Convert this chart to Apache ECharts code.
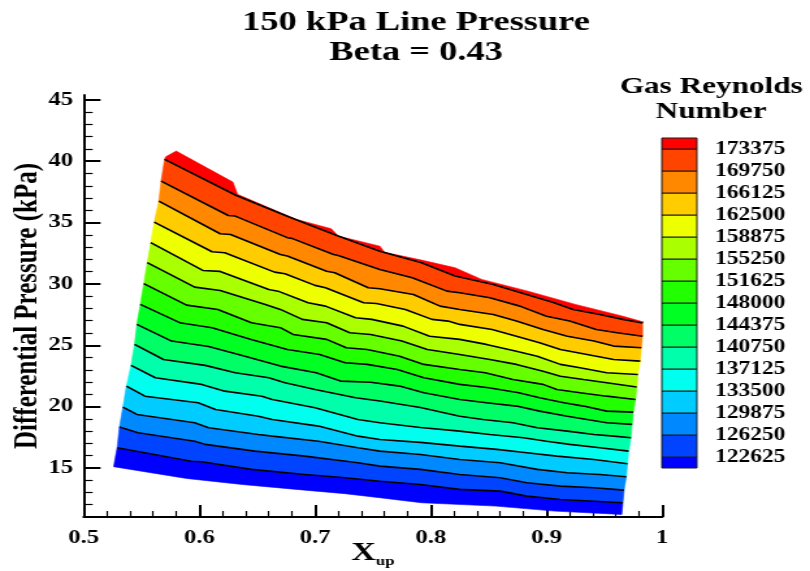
<!DOCTYPE html>
<html>
<head>
<meta charset="utf-8">
<script src="https://cdn.jsdelivr.net/npm/echarts@6/dist/echarts.min.js"></script>
<style>
  html, body { margin: 0; padding: 0; background: #fff; overflow: hidden; }
  /* the reference is a horizontally stretched Tecplot export */
  #main { width: 623px; height: 571px; transform: scaleX(1.3002); transform-origin: 0 0; }
</style>
</head>
<body>
<div id="main"></div>
<script>
const levels = [122625, 126250, 129875, 133500, 137125, 140750, 144375, 148000,
  151625, 155250, 158875, 162500, 166125, 169750, 173375]
const bandColors = ['#0000FF', '#0044FF', '#0088FF', '#00CCFF', '#00FFEE', '#00FFAA',
  '#00FF66', '#00FF22', '#22FF00', '#66FF00', '#AAFF00', '#EEFF00', '#FFCC00',
  '#FF8800', '#FF4400', '#FF0000']
const xTicks = [0.5, 0.6, 0.7, 0.8, 0.9, 1]
const yTicks = [15, 20, 25, 30, 35, 40, 45]
const yMinorTicks = [12, 13, 14, 16, 17, 18, 19, 21, 22, 23, 24, 26, 27, 28, 29,
  31, 32, 33, 34, 36, 37, 38, 39, 41, 42, 43, 44]

// domain edges and contour lines, [Xup, dP kPa]
const bottomEdge = [[0.526, 15.10], [0.589, 14.14], [0.637, 13.65], [0.684, 13.25], [0.726, 12.90],
  [0.756, 12.57], [0.792, 12.16], [0.856, 11.89], [0.907, 11.48], [0.965, 11.21]]
const c122625 = [[0.529, 16.65], [0.593, 15.55], [0.602, 15.51], [0.645, 14.88], [0.691, 14.47],
  [0.726, 14.20], [0.756, 13.92], [0.791, 13.65], [0.825, 13.25], [0.860, 13.11], [0.883, 12.70],
  [0.912, 12.43], [0.941, 12.29], [0.966, 12.16]]
const c126250 = [[0.531, 18.33], [0.547, 17.87], [0.596, 17.18], [0.605, 16.92], [0.648, 16.37],
  [0.691, 15.96], [0.737, 15.42], [0.756, 15.15], [0.791, 14.88], [0.825, 14.47], [0.860, 14.20],
  [0.883, 13.79], [0.912, 13.52], [0.941, 13.39], [0.967, 13.19]]
const c129875 = [[0.534, 19.96], [0.546, 19.36], [0.596, 18.68], [0.608, 18.28], [0.651, 17.73],
  [0.663, 17.59], [0.703, 17.18], [0.737, 16.65], [0.756, 16.37], [0.791, 16.10], [0.825, 15.69],
  [0.860, 15.42], [0.892, 14.88], [0.918, 14.61], [0.946, 14.47], [0.969, 14.28]]
const c133500 = [[0.537, 21.67], [0.553, 20.85], [0.599, 20.32], [0.614, 19.77], [0.651, 19.22],
  [0.663, 18.95], [0.703, 18.41], [0.737, 17.59], [0.756, 17.32], [0.791, 17.08], [0.825, 16.78],
  [0.857, 16.51], [0.883, 16.24], [0.909, 15.96], [0.941, 15.69], [0.970, 15.34]]
const c137125 = [[0.541, 23.36], [0.562, 22.35], [0.602, 21.81], [0.622, 21.26], [0.654, 20.85],
  [0.663, 20.58], [0.700, 19.91], [0.737, 18.95], [0.756, 18.68], [0.791, 18.30], [0.825, 18.00],
  [0.851, 17.73], [0.880, 17.46], [0.900, 17.18], [0.920, 16.92], [0.946, 16.65], [0.971, 16.37]]
const c140750 = [[0.544, 25.07], [0.569, 23.84], [0.605, 23.36], [0.631, 22.76], [0.660, 22.35],
  [0.674, 21.95], [0.700, 21.40], [0.735, 20.72], [0.756, 20.45], [0.791, 19.93], [0.825, 19.22],
  [0.845, 18.95], [0.871, 18.68], [0.892, 18.28], [0.918, 18.00], [0.941, 17.73], [0.958, 17.59],
  [0.973, 17.46]]
const c144375 = [[0.546, 26.70], [0.576, 25.34], [0.608, 24.90], [0.637, 24.17], [0.670, 23.30],
  [0.701, 22.76], [0.722, 22.08], [0.748, 21.99], [0.773, 21.67], [0.794, 21.13], [0.825, 20.58],
  [0.848, 20.32], [0.874, 20.04], [0.894, 19.63], [0.918, 19.22], [0.935, 18.95], [0.952, 18.68],
  [0.974, 18.55]]
const c148000 = [[0.549, 28.33], [0.583, 26.84], [0.611, 26.43], [0.644, 25.48], [0.676, 24.66],
  [0.704, 24.25], [0.726, 23.58], [0.745, 23.44], [0.771, 23.03], [0.794, 22.35], [0.825, 21.81],
  [0.850, 21.54], [0.876, 21.13], [0.894, 20.72], [0.915, 20.32], [0.932, 20.04], [0.952, 19.63],
  [0.975, 19.55]]
const c151625 = [[0.552, 30.02], [0.589, 28.27], [0.616, 27.92], [0.645, 26.84], [0.670, 26.43],
  [0.681, 25.88], [0.710, 25.48], [0.727, 24.80], [0.745, 24.66], [0.773, 24.11], [0.794, 23.44],
  [0.825, 23.03], [0.847, 22.76], [0.871, 22.21], [0.897, 21.81], [0.909, 21.40], [0.929, 21.13],
  [0.952, 20.85], [0.977, 20.58]]
const c155250 = [[0.555, 31.73], [0.596, 29.74], [0.618, 29.47], [0.657, 28.33], [0.670, 27.92],
  [0.689, 27.11], [0.710, 26.84], [0.730, 26.02], [0.748, 25.88], [0.775, 25.34], [0.797, 24.66],
  [0.825, 24.25], [0.851, 23.84], [0.874, 23.44], [0.897, 22.89], [0.912, 22.48], [0.932, 22.21],
  [0.952, 21.95], [0.978, 21.59]]
const c158875 = [[0.558, 33.36], [0.603, 31.10], [0.618, 31.02], [0.660, 29.55], [0.668, 29.41],
  [0.694, 28.47], [0.709, 28.19], [0.735, 27.24], [0.749, 27.11], [0.776, 26.56], [0.799, 25.74],
  [0.825, 25.48], [0.848, 25.07], [0.874, 24.52], [0.892, 24.11], [0.912, 23.44], [0.929, 23.17],
  [0.952, 22.76], [0.979, 22.62]]
const c162500 = [[0.561, 35.04], [0.611, 32.62], [0.622, 32.54], [0.665, 30.96], [0.674, 30.83],
  [0.700, 29.88], [0.709, 29.69], [0.742, 28.47], [0.753, 28.41], [0.778, 27.92], [0.801, 27.11],
  [0.815, 26.97], [0.825, 26.70], [0.853, 26.29], [0.874, 25.74], [0.894, 25.21], [0.912, 24.66],
  [0.935, 24.25], [0.958, 23.84], [0.981, 23.71]]
const c166125 = [[0.565, 36.75], [0.618, 34.09], [0.627, 34.03], [0.670, 32.40], [0.676, 32.27],
  [0.710, 31.04], [0.717, 30.91], [0.746, 29.69], [0.756, 29.61], [0.785, 29.14], [0.808, 28.19],
  [0.825, 27.92], [0.854, 27.51], [0.874, 26.97], [0.897, 26.29], [0.918, 25.74], [0.941, 25.34],
  [0.958, 24.93], [0.982, 24.80]]
const c169750 = [[0.567, 38.38], [0.625, 35.58], [0.631, 35.53], [0.676, 33.77], [0.680, 33.71],
  [0.716, 32.40], [0.720, 32.32], [0.756, 31.18], [0.784, 30.50], [0.814, 29.41], [0.825, 29.28],
  [0.851, 28.87], [0.877, 28.19], [0.900, 27.37], [0.920, 26.97], [0.943, 26.29], [0.961, 26.02],
  [0.983, 25.74]]
const c173375 = [[0.570, 40.15], [0.632, 37.21], [0.677, 35.48], [0.720, 33.90], [0.756, 32.67],
  [0.792, 31.73], [0.821, 30.64], [0.854, 29.96], [0.877, 29.31], [0.906, 28.49], [0.923, 27.92],
  [0.946, 27.51], [0.966, 27.11], [0.983, 26.82]]
const topEdge = [[0.571, 40.37], [0.580, 40.83], [0.629, 38.30], [0.633, 37.30], [0.684, 35.26],
  [0.714, 34.50], [0.720, 33.90], [0.756, 33.08], [0.760, 32.58], [0.792, 31.94], [0.821, 31.32],
  [0.844, 30.37], [0.884, 29.41], [0.925, 28.33], [0.966, 27.37], [0.984, 26.89]]

const contours = [c122625, c126250, c129875, c133500, c137125, c140750, c144375, c148000,
  c151625, c155250, c158875, c162500, c166125, c169750, c173375]
const boundaries = [bottomEdge, ...contours, topEdge]

const FONT = '"Liberation Serif", "Times New Roman", serif'
const chart = echarts.init(document.getElementById('main'))

// colour legend (Tecplot style: contiguous boxes, labels at the level boundaries)
const LEG = { x: 509, top: 138, w: 27, band: 22 }
const legendItems = []
bandColors.forEach((c, k) => {
  const last = bandColors.length - 1
  const h = (k === 0 || k === last) ? LEG.band / 2 : LEG.band
  const y = k === last ? LEG.top : LEG.top + LEG.band / 2 + (last - 1 - k) * LEG.band
  legendItems.push({
    type: 'rect', shape: { x: LEG.x, y: y, width: LEG.w, height: h },
    style: { fill: c, stroke: '#1a1a1a', lineWidth: 1 }
  })
})
levels.forEach((v, j) => {
  legendItems.push({
    type: 'text', x: LEG.x + 41, y: LEG.top + LEG.band / 2 + (levels.length - 1 - j) * LEG.band,
    style: { text: String(v), font: 'bold 18px ' + FONT, fill: '#000', verticalAlign: 'middle', align: 'left' }
  })
})
legendItems.push({
  type: 'text', x: 547, y: 74,
  style: { text: 'Gas Reynolds\nNumber', font: 'bold 24px ' + FONT, lineHeight: 25, fill: '#000', align: 'center' }
})

const contourLines = contours.map((pts, i) => ({
  type: 'line', name: String(levels[i]), data: pts, showSymbol: false, silent: true,
  lineStyle: { color: '#000', width: 1.6 }, z: 3
}))

chart.setOption({
  animation: false,
  title: {
    text: '150 kPa Line Pressure\nBeta = 0.43', left: 315, top: 3, textAlign: 'center',
    textStyle: { fontFamily: FONT, fontWeight: 'bold', fontSize: 28, lineHeight: 30, color: '#000' }
  },
  grid: { left: 64.3, right: 113.7, top: 95, bottom: 54, outerBoundsMode: 'none' },
  xAxis: {
    type: 'value', min: 0.5, max: 1, interval: 0.1,
    name: '{a|X}{b|up}', nameLocation: 'middle', nameGap: 23, nameMoveOverlap: false,
    nameTextStyle: {
      verticalAlign: 'top',
      rich: {
        a: { fontFamily: FONT, fontWeight: 'bold', fontSize: 26, color: '#000', verticalAlign: 'top', lineHeight: 26 },
        b: { fontFamily: FONT, fontWeight: 'bold', fontSize: 13, color: '#000', verticalAlign: 'top', lineHeight: 13, padding: [15, 0, 0, 0] }
      }
    },
    axisLine: { lineStyle: { color: '#000', width: 2 } },
    axisTick: { inside: true, length: 12, lineStyle: { color: '#000', width: 2 } },
    minorTick: { show: true, splitNumber: 5, length: 6, lineStyle: { color: '#000', width: 1.2 } },
    axisLabel: {
      margin: 12, color: '#000', fontFamily: FONT, fontWeight: 'bold', fontSize: 19,
      formatter: v => xTicks.includes(+v.toFixed(1)) ? (v === 1 ? '1' : v.toFixed(1)) : ''
    },
    splitLine: { show: false }
  },
  yAxis: [{
    type: 'value', min: 11, max: 45.4,
    name: 'Differential Pressure (kPa)', nameLocation: 'middle', nameGap: 30, nameMoveOverlap: false,
    nameTextStyle: { fontFamily: FONT, fontWeight: 'bold', fontSize: 25, color: '#000' },
    axisLine: { lineStyle: { color: '#000', width: 2 } },
    axisTick: { inside: true, length: 13, customValues: yTicks, lineStyle: { color: '#000', width: 2 } },
    axisLabel: { margin: 8, color: '#000', fontFamily: FONT, fontWeight: 'bold', fontSize: 19, customValues: yTicks },
    splitLine: { show: false }
  }, {
    type: 'value', min: 11, max: 45.4, position: 'left',
    axisLine: { show: false },
    axisTick: { inside: true, length: 7, customValues: yMinorTicks, lineStyle: { color: '#000', width: 1.2 } },
    axisLabel: { show: false },
    splitLine: { show: false }
  }],
  graphic: legendItems,
  series: [{
    type: 'custom', silent: true, z: 2,
    data: bandColors.map((c, i) => [i]),
    renderItem: (params, api) => {
      const i = api.value(0)
      const lower = boundaries[i].map(p => api.coord(p))
      const upper = boundaries[i + 1].slice().reverse().map(p => api.coord(p))
      return {
        type: 'polygon', shape: { points: lower.concat(upper) },
        style: { fill: bandColors[i], stroke: bandColors[i], lineWidth: 0.6 }
      }
    }
  }, ...contourLines]
})
</script>
</body>
</html>
